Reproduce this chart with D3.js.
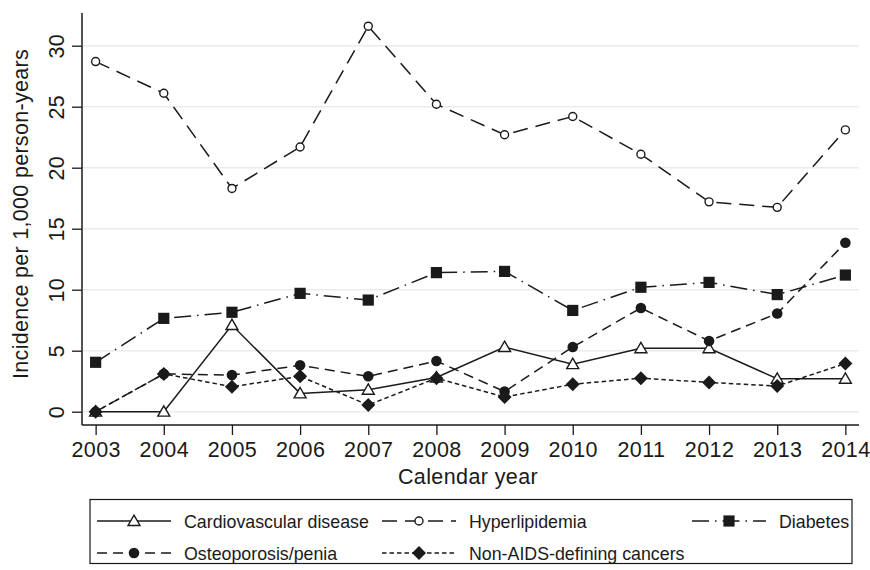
<!DOCTYPE html>
<html>
<head>
<meta charset="utf-8">
<script src="https://cdn.jsdelivr.net/npm/d3@7"></script>
<style>
  body { margin: 0; background: #fff; }
  text { font-family: "Liberation Sans", Arial, sans-serif; fill: #1a1a1a; }
</style>
</head>
<body>
<div id="chart"></div>
<script>
// values (incidence per 1,000 person-years)
var years = [2003, 2004, 2005, 2006, 2007, 2008, 2009, 2010, 2011, 2012, 2013, 2014];
var cardio   = [0, 0, 7.1, 1.5, 1.8, 2.8, 5.3, 3.9, 5.2, 5.2, 2.7, 2.7];
var hyper    = [28.7, 26.1, 18.3, 21.7, 31.6, 25.2, 22.7, 24.2, 21.1, 17.2, 16.75, 23.1];
var diabetes = [4.05, 7.65, 8.15, 9.7, 9.15, 11.4, 11.5, 8.3, 10.2, 10.6, 9.6, 11.2];
var osteo    = [0, 3.1, 3.0, 3.8, 2.9, 4.15, 1.65, 5.3, 8.5, 5.8, 8.05, 13.85];
var cancers  = [0, 3.1, 2.05, 2.9, 0.55, 2.75, 1.2, 2.25, 2.75, 2.4, 2.1, 3.95];
var yTicks = [0, 5, 10, 15, 20, 25, 30];

var series = [
  {name: "Cardiovascular disease", values: cardio, dash: null, marker: "triangle"},
  {name: "Hyperlipidemia", values: hyper, dash: "15,8", marker: "hollow"},
  {name: "Diabetes", values: diabetes, dash: "17,6,1.5,6", marker: "square"},
  {name: "Osteoporosis/penia", values: osteo, dash: "10,6", marker: "dot"},
  {name: "Non-AIDS-defining cancers", values: cancers, dash: "4.5,3", marker: "diamond"}
];

var width = 870, height = 570;
var ink = "#1a1a1a";

var svg = d3.select("#chart").append("svg")
  .attr("width", width)
  .attr("height", height);

var x = d3.scaleLinear().domain([2002.8, 2014.2]).range([82, 859]);
var y = d3.scaleLinear().domain([-1.09, 32.68]).range([425, 13]);

// grid
svg.append("g").selectAll("line")
  .data(yTicks)
  .enter().append("line")
  .attr("x1", 82).attr("x2", 859)
  .attr("y1", function(d) { return y(d); })
  .attr("y2", function(d) { return y(d); })
  .style("stroke", "#ebebeb")
  .style("stroke-width", 1.5);

// axes
var yAxis = svg.append("g")
  .attr("transform", "translate(82,0)")
  .call(d3.axisLeft(y).tickValues(yTicks).tickSize(10).tickSizeOuter(0).tickPadding(0));
yAxis.selectAll("text")
  .attr("x", 0).attr("dy", null)
  .attr("transform", "translate(-18,0) rotate(-90)")
  .attr("text-anchor", "middle")
  .style("font-size", "21.5px")
  .style("letter-spacing", "0.4px");

var xAxis = svg.append("g")
  .attr("transform", "translate(0,425)")
  .call(d3.axisBottom(x).tickValues(years).tickFormat(d3.format("d")).tickSize(10).tickSizeOuter(0).tickPadding(0));
xAxis.selectAll("text")
  .attr("y", 32).attr("dy", null)
  .style("font-size", "21.5px")
  .style("letter-spacing", "0.4px");

svg.selectAll(".domain").style("stroke", ink).style("stroke-width", 1.5);
svg.selectAll(".tick line").style("stroke", ink).style("stroke-width", 1.3);
svg.selectAll(".tick text").style("fill", ink).style("font-family", "Liberation Sans, Arial, sans-serif");

// axis lines over the whole plot region
yAxis.select(".domain").attr("d", "M0,13V425");
xAxis.select(".domain").attr("d", "M82,0H859");

// axis titles
svg.append("text")
  .attr("x", 468).attr("y", 484)
  .attr("text-anchor", "middle")
  .style("font-size", "21.5px")
  .style("letter-spacing", "0.4px")
  .text("Calendar year");

svg.append("text")
  .attr("transform", "translate(28,214) rotate(-90)")
  .attr("text-anchor", "middle")
  .style("font-size", "21.5px")
  .style("letter-spacing", "0.3px")
  .text("Incidence per 1,000 person-years");

// markers
function drawMarker(g, type, cx, cy) {
  if (type == "triangle") {
    g.append("path")
      .attr("d", d3.symbol().type(d3.symbolTriangle).size(62)())
      .attr("transform", "translate(" + cx + "," + (cy + 1) + ")")
      .style("fill", "#fff").style("stroke", ink).style("stroke-width", 1.4);
  } else if (type == "hollow") {
    g.append("circle").attr("cx", cx).attr("cy", cy).attr("r", 4)
      .style("fill", "#fff").style("stroke", ink).style("stroke-width", 1.4);
  } else if (type == "dot") {
    g.append("circle").attr("cx", cx).attr("cy", cy).attr("r", 5.3)
      .style("fill", ink);
  } else if (type == "square") {
    g.append("rect").attr("x", cx - 5.6).attr("y", cy - 5.6)
      .attr("width", 11.2).attr("height", 11.2)
      .style("fill", ink);
  } else if (type == "diamond") {
    g.append("path")
      .attr("d", "M0,-7L7,0L0,7L-7,0Z")
      .attr("transform", "translate(" + cx + "," + cy + ")")
      .style("fill", ink);
  }
}

var line = d3.line()
  .x(function(d, i) { return x(years[i]); })
  .y(function(d) { return y(d); });

series.forEach(function(s) {
  var g = svg.append("g");
  g.append("path")
    .attr("d", line(s.values))
    .style("fill", "none")
    .style("stroke", ink)
    .style("stroke-width", 1.5)
    .style("stroke-dasharray", s.dash);
  s.values.forEach(function(v, i) {
    drawMarker(g, s.marker, x(years[i]), y(v));
  });
});

// legend
var legend = svg.append("g");
legend.append("rect")
  .attr("x", 90).attr("y", 499.5)
  .attr("width", 762).attr("height", 64)
  .style("fill", "#fff").style("stroke", ink).style("stroke-width", 1.2);

var legPos = [
  {x0: 97, ty: 521}, {x0: 382, ty: 521}, {x0: 692, ty: 521},
  {x0: 97, ty: 553}, {x0: 382, ty: 553}
];
series.forEach(function(s, i) {
  var p = legPos[i];
  var g = legend.append("g");
  g.append("line")
    .attr("x1", p.x0).attr("x2", p.x0 + 74)
    .attr("y1", p.ty).attr("y2", p.ty)
    .style("stroke", ink).style("stroke-width", 1.5)
    .style("stroke-dasharray", s.dash);
  drawMarker(g, s.marker, p.x0 + 37, p.ty);
  g.append("text")
    .attr("x", p.x0 + 87).attr("y", p.ty + 6.5)
    .style("font-size", "17.8px")
    .text(s.name);
});
</script>
</body>
</html>
